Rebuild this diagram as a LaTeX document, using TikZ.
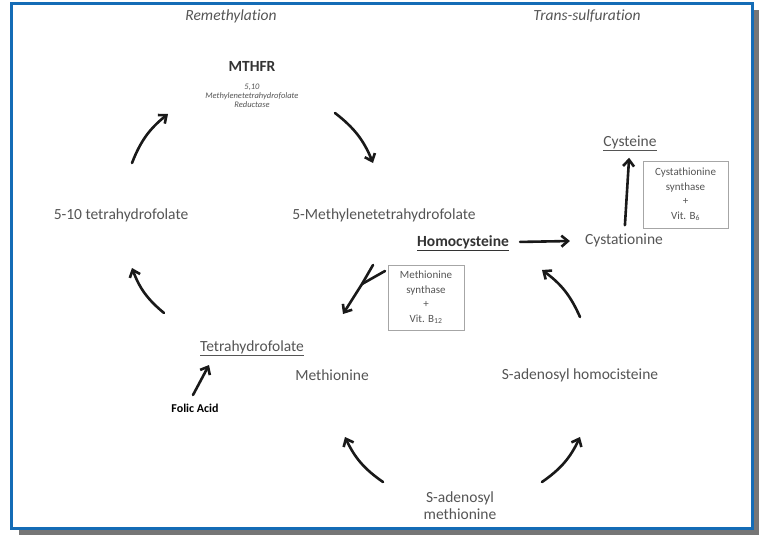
\documentclass[tikz,border=0pt]{standalone}
\usepackage{fontspec}
\setmainfont{Carlito}[Ligatures=NoCommon]
\usetikzlibrary{arrows.meta}

\definecolor{frameblue}{RGB}{20,108,182}
\definecolor{shadowgray}{RGB}{118,118,118}
\definecolor{txtgray}{RGB}{85,85,85}

\begin{document}
\begin{tikzpicture}[x=1pt,y=1pt,>={Straight Barb[length=6.5pt,width=11pt]},
  every node/.style={text=txtgray,inner sep=0pt,font=\fontsize{15.5}{18}\selectfont},
  title/.style={font=\fontsize{15.5}{18}\selectfont\itshape},
  key/.style={text=black!80,font=\fontsize{15.5}{18}\selectfont\bfseries},
  enzyme/.style={draw=gray!70,thick,fill=white,align=center,font=\fontsize{11}{14.5}\selectfont},
  flow/.style={line width=2.6pt,black!90,line cap=round}]
  % frame with shadow
  \useasboundingbox (0,0) rectangle (759,-535);
  \fill[shadowgray] (19,-10) rectangle (759,-535);
  \draw[frameblue,fill=white,line width=3pt] (11,-4) rectangle (752,-528);

  \node[title] (remeth) at (231,-16) {Remethylation};
  \node[title] (transs) at (587,-16) {Trans-sulfuration};

  % remethylation cycle
  \node[key] (mthfr) at (252,-66) {MTHFR};
  \node[align=center,font=\fontsize{8.5}{9}\selectfont\itshape] (mthfrname) at (252,-96) {5,10\\Methylenetetrahydrofolate\\Reductase};
  \node (thf510) at (121,-215) {5-10 tetrahydrofolate};
  \node (mthf) at (384,-215) {5-Methylenetetrahydrofolate};
  \node[key] (hcy) at (463,-243) {\underline{Homocysteine}};
  \node (thf) at (252,-348) {\underline{Tetrahydrofolate}};
  \node[key,font=\fontsize{12}{14}\selectfont\bfseries,text=black] (folic) at (195,-408) {Folic Acid};
  \node[enzyme,minimum width=76pt,minimum height=65pt] (metsyn) at (426,-297.5) {Methionine\\synthase\\+\\Vit. B\textsubscript{12}};

  % trans-sulfuration
  \node (cysta) at (624,-240) {Cystationine};
  \node (cys) at (630,-143) {\underline{Cysteine}};
  \node[enzyme,minimum width=85pt,minimum height=67pt] (cbs) at (685.5,-194.5) {Cystathionine\\synthase\\+\\Vit. B\textsubscript{6}};

  % methionine cycle
  \node (met) at (332,-375) {Methionine};
  \node (sah) at (580,-375) {S-adenosyl homocisteine};
  \node[align=center,font=\fontsize{15.5}{17}\selectfont] (sam) at (460,-506) {S-adenosyl\\methionine};

  % arrow ends
  \coordinate (a_1) at (132,-163); \coordinate (b_1) at (168,-114);
  \coordinate (a_2) at (335,-113); \coordinate (b_2) at (373,-163);
  \coordinate (a_3) at (164,-313); \coordinate (b_3) at (132,-268);
  \coordinate (a_4) at (373,-265); \coordinate (c_4) at (385,-271);
  \coordinate (m_4) at (362,-284); \coordinate (b_4) at (343,-314);
  \coordinate (a_5) at (193,-395); \coordinate (b_5) at (209,-365);
  \coordinate (a_6) at (383,-482); \coordinate (b_6) at (345,-437);
  \coordinate (a_7) at (542,-482); \coordinate (b_7) at (580,-437);
  \coordinate (a_8) at (580,-317); \coordinate (b_8) at (542,-270);

  \path[flow,->] (a_1) edge [bend left=15] (b_1)
  (a_2) edge [bend left=15] (b_2)
  (a_3) edge [bend left=15] (b_3)
  (a_5) edge (b_5)
  (a_6) edge [bend left=15] (b_6)
  (a_7) edge [bend right=15] (b_7)
  (a_8) edge [bend right=15] (b_8)
  (hcy) edge [shorten <=11pt,shorten >=15pt] (cysta)
  (cysta) edge [shorten <=8pt,shorten >=7pt] (cys);
  \draw[flow,->] (a_4) -- (m_4) -- (b_4);
  \draw[flow] (c_4) -- (m_4);
\end{tikzpicture}
\end{document}
